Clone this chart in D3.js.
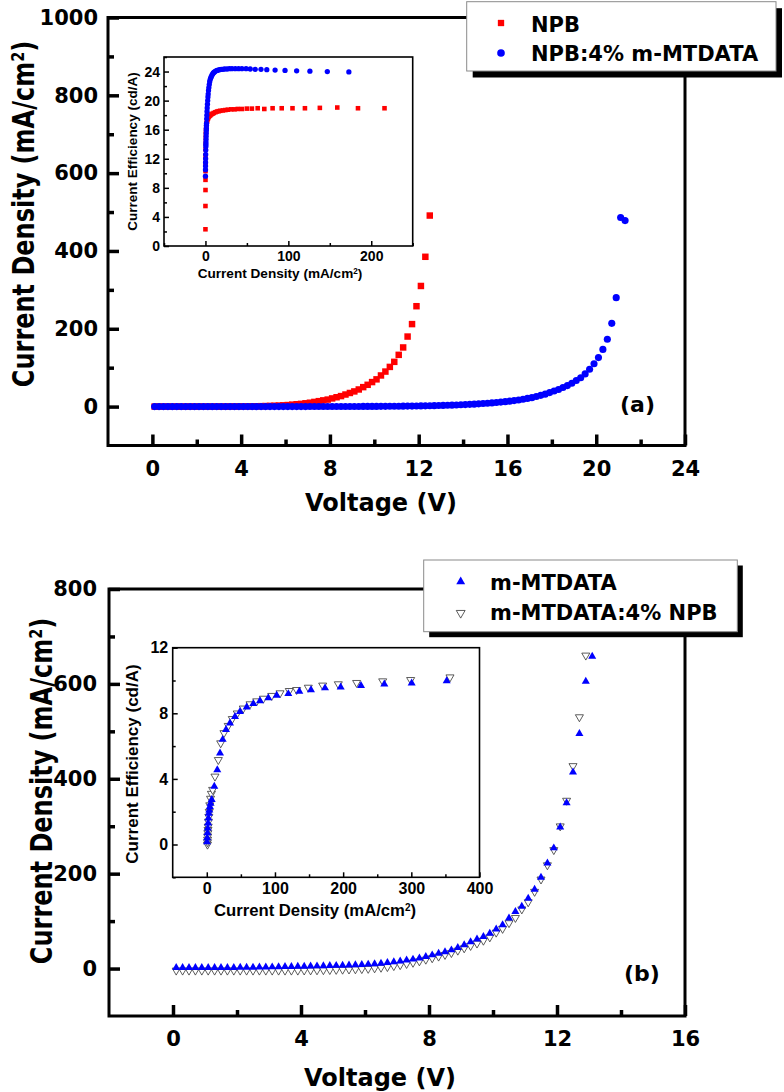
<!DOCTYPE html>
<html><head><meta charset="utf-8">
<script src="https://cdn.jsdelivr.net/npm/d3@7"></script>
<style>body{margin:0;background:#fff}svg{display:block}</style>
</head><body>
<script>
// ---------------- DATA ----------------
// Panel (a) main: current density (mA/cm2) vs voltage (V)
const npbVoltage = [0.1,0.3,0.5,0.7,0.9,1.1,1.3,1.5,1.7,1.9,2.1,2.3,2.5,2.7,2.9,3.1,3.3,3.5,3.7,3.9,4.1,4.3,4.5,4.7,4.9,5.1,5.3,5.5,5.7,5.9,6.1,6.3,6.5,6.7,6.9,7.1,7.3,7.5,7.7,7.9,8.1,8.3,8.5,8.7,8.9,9.1,9.3,9.5,9.7,9.9,10.1,10.3,10.5,10.7,10.9,11.1,11.3,11.5,11.7,11.9,12.1,12.3,12.5];
const npbCurrent = [0,0,0,0,0,0,0,0,0,0, 0,0,0,0.05,0.05,0.1,0.1,0.15,0.2,0.3, 0.4,0.5,0.7,0.9,1.1,1.4,1.8,2.2,2.7,3.3, 4,5,6,7,8.5,10,12,14,16,18, 21,24,27,31,35,39,44,50,56,63, 70,80,90,102,115,133,152,180,212,258, 310,385,491];
const dopedVoltage = [0.1,0.3,0.5,0.7,0.9,1.1,1.3,1.5,1.7,1.9,2.1,2.3,2.5,2.7,2.9,3.1,3.3,3.5,3.7,3.9,4.1,4.3,4.5,4.7,4.9,5.1,5.3,5.5,5.7,5.9,6.1,6.3,6.5,6.7,6.9,7.1,7.3,7.5,7.7,7.9,8.1,8.3,8.5,8.7,8.9,9.1,9.3,9.5,9.7,9.9,10.1,10.3,10.5,10.7,10.9,11.1,11.3,11.5,11.7,11.9,12.1,12.3,12.5,12.7,12.9,13.1,13.3,13.5,13.7,13.9,14.1,14.3,14.5,14.7,14.9,15.1,15.3,15.5,15.7,15.9,16.1,16.3,16.5,16.7,16.9,17.1,17.3,17.5,17.7,17.9,18.1,18.3,18.5,18.7,18.9,19.1,19.3,19.5,19.7,19.9,20.1,20.3,20.5,20.7,20.9,21.1,21.3];
const dopedCurrent = [0,0,0,0,0,0,0,0,0,0, 0,0,0,0,0,0,0,0,0,0, 0,0,0,0,0,0.02,0.02,0.03,0.03,0.04, 0.05,0.05,0.06,0.07,0.08,0.09,0.1,0.11,0.12,0.13, 0.15,0.18,0.21,0.24,0.27,0.3,0.35,0.4,0.45,0.5, 0.55,0.6,0.7,0.8,0.9,1.0,1.1,1.2,1.3,1.5, 1.7,1.9,2.1,2.4,2.7,3.0,3.3,3.7,4.1,4.6, 5.1,5.7,6.3,7.0,7.8,8.6,9.5,10.5,11.5,12.7, 14,15.5,17,19,21,23,26,29,32,36, 40,44,49,54,60,67,74,84,96,110, 126,147,173,214,280,486,478];

// Panel (a) inset: current efficiency (cd/A) vs current density
const npbInsetDensity = [0,0,0.05,0.05,0.1,0.1,0.15,0.2,0.3,0.4,0.5,0.7,0.9,1.1,1.4,1.8,2.2,2.7,3.3,4,5,6,7,8.5,10,12,14,16,18,21,24,27,31,35,39,44,50,56,63,71,81,92,105,120,138,159,184,216];
const npbInsetEff = [2.3,5.5,7.7,9.1,10.3,11.4,12.4,13.3,14.1,14.8,15.4,15.9,16.3,16.6,16.9,17.1,17.3,17.5,17.6,17.8,17.9,18.0,18.1,18.2,18.3,18.4,18.5,18.55,18.6,18.65,18.7,18.75,18.8,18.8,18.85,18.85,18.9,18.9,18.95,18.85,18.95,18.95,18.95,18.95,19.0,19.05,18.95,18.95];
const dopedInsetDensity = [0,0.05,0.1,0.15,0.2,0.3,0.4,0.5,0.55,0.6,0.7,0.8,0.9,1.0,1.1,1.2,1.3,1.5,1.7,1.9,2.1,2.4,2.7,3.0,3.3,3.7,4.1,4.6,5.1,5.7,6.3,7.0,7.8,8.6,9.5,10.5,11.5,12.7,14,15.5,17,19,21,23,26,29,32,36,40,44,49,54,60,67,74,84,96,110,126,147,173];
const dopedInsetEff = [9.6,10.5,11.0,11.5,12.0,12.6,13.2,13.7,14.0,14.3,14.7,15.1,15.5,15.9,16.2,16.6,16.9,17.5,18.0,18.5,19.0,19.5,20.0,20.5,20.9,21.4,21.8,22.2,22.6,22.9,23.1,23.3,23.5,23.65,23.8,23.9,24.0,24.1,24.15,24.2,24.25,24.3,24.3,24.35,24.35,24.4,24.4,24.4,24.4,24.4,24.4,24.35,24.3,24.3,24.25,24.2,24.15,24.1,24.05,24.0,23.95];

// Panel (b) main
const mtVoltage = [0.1,0.3,0.5,0.7,0.9,1.1,1.3,1.5,1.7,1.9,2.1,2.3,2.5,2.7,2.9,3.1,3.3,3.5,3.7,3.9,4.1,4.3,4.5,4.7,4.9,5.1,5.3,5.5,5.7,5.9,6.1,6.3,6.5,6.7,6.9,7.1,7.3,7.5,7.7,7.9,8.1,8.3,8.5,8.7,8.9,9.1,9.3,9.5,9.7,9.9,10.1,10.3,10.5,10.7,10.9,11.1,11.3,11.5,11.7,11.9,12.1,12.3,12.5,12.7,12.9,13.1];
const mtCurrent = [2,2,2,2,2,2,2,2,2,2, 2.2,2.4,2.6,2.8,3,3.2,3.5,3.8,4.1,4.4, 4.7,5,5.3,5.6,6,6.4,6.8,7.3,7.8,8.4, 9,10,11,12.5,14,15.5,17.5,19.5,22,25, 28.5,32,35,39,44,50,56,62,67,74, 83,92,106,120,131,148,167,192,222,254, 298,349,414,495,605,658];
const mtNpbVoltage = [0.1,0.3,0.5,0.7,0.9,1.1,1.3,1.5,1.7,1.9,2.1,2.3,2.5,2.7,2.9,3.1,3.3,3.5,3.7,3.9,4.1,4.3,4.5,4.7,4.9,5.1,5.3,5.5,5.7,5.9,6.1,6.3,6.5,6.7,6.9,7.1,7.3,7.5,7.7,7.9,8.1,8.3,8.5,8.7,8.9,9.1,9.3,9.5,9.7,9.9,10.1,10.3,10.5,10.7,10.9,11.1,11.3,11.5,11.7,11.9,12.1,12.3,12.5,12.7,12.9];
const mtNpbCurrent = [-4,-4,-4,-4,-4,-4,-4,-4,-4,-4, -4,-4,-4,-4,-4,-4,-4,-4,-4,-4, -3.8,-3.6,-3.4,-3.1,-2.8,-2.5,-2.1,-1.7,-1.3,-0.8, -0.3,0.8,2,3.5,5.5,7.5,10,12.5,15.5,19, 22,25.5,29,33,38,43,48,53,59,66, 76,84,96,107,125,140,162,188,218,250, 300,354,427,530,660];

// Panel (b) inset
const mtInsetDensity = [0.3,0.6,1.0,1.4,1.9,2.4,3.0,3.7,4.5,5.5,7.2,11,15.4,19.4,23.3,28.2,34,41.4,48.7,58.5,68.2,78,90.2,102.5,119.6,135.7,152.8,173.4,196.4,226.2,260.4,300.5,351.9];
const mtInsetEff = [0.15,0.4,0.7,1.0,1.3,1.6,1.9,2.1,2.3,2.5,2.73,3.54,4.55,5.57,6.4,7.0,7.4,7.8,8.1,8.38,8.58,8.76,8.93,9.09,9.19,9.33,9.43,9.54,9.6,9.68,9.78,9.84,9.98];
const mtNpbInsetDensity = [1.0,1.1,1.2,1.4,1.6,1.8,2.1,2.5,3.0,3.6,4.4,5.5,6.8,8.6,12,16.9,20.4,25.2,31.5,37.4,44.7,53.5,63.4,73.2,82.9,95.2,107.4,121,131.8,148.9,170,192.9,219.8,258,299,356.7];
const mtNpbInsetEff = [0.0,0.15,0.3,0.5,0.7,0.9,1.1,1.4,1.7,2.0,2.4,2.8,3.1,3.34,4.15,5.16,6.18,6.8,7.24,7.66,8.0,8.3,8.56,8.74,8.9,9.07,9.23,9.37,9.43,9.57,9.7,9.78,9.86,9.96,10.04,10.2];

// Ticks and labels
const aXMajor = [0,4,8,12,16,20,24], aXMinor = [2,6,10,14,18,22];
const aYMajor = [0,200,400,600,800,1000], aYMinor = [100,300,500,700,900];
const bXMajor = [0,4,8,12,16], bXMinor = [2,6,10,14];
const bYMajor = [0,200,400,600,800], bYMinor = [100,300,500,700];
const aInXMajor = [0,100,200], aInXMinor = [-50,50,150,250];
const aInYMajor = [0,4,8,12,16,20,24], aInYMinor = [2,6,10,14,18,22,26];
const bInXMajor = [0,100,200,300,400], bInXMinor = [50,150,250,350];
const bInYMajor = [0,4,8,12], bInYMinor = [-2,2,6,10];
const legendA = ["NPB", "NPB:4% m-MTDATA"];
const legendB = ["m-MTDATA", "m-MTDATA:4% NPB"];
const xTitle = "Voltage (V)";
const yTitle = "Current Density (mA/cm";
const inYTitle = "Current Efficiency (cd/A)";
const inXTitle = "Current Density (mA/cm";

// ---------------- DRAW ----------------
const MF = "'DejaVu Sans', sans-serif";
const IF = "'Liberation Sans', Arial, sans-serif";
const RED = "#ff0000", BLUE = "#0000ff";
const svg = d3.select("body").append("svg").attr("width", 784).attr("height", 1092);
const zip = (a, b) => a.map((v, i) => [v, b[i]]);

function axes(g, x, y, o) {
  const b = y.range()[0], l = x.range()[0];
  g.append("rect").attr("x", l).attr("y", y.range()[1])
    .attr("width", x.range()[1] - l).attr("height", b - y.range()[1])
    .attr("fill", "none").attr("stroke", "#000").attr("stroke-width", o.frame);
  const mk = (axis, tr) => {
    const a = g.append("g").attr("transform", tr).call(axis);
    a.select(".domain").remove();
    a.attr("font-family", o.font).attr("font-size", o.fs).attr("font-weight", "bold");
    a.selectAll(".tick line").attr("stroke", "#000").attr("stroke-width", o.sw);
    a.selectAll(".tick text").attr("fill", "#000");
    return a;
  };
  mk(d3.axisBottom(x).tickValues(o.xMajor).tickSize(-o.maj).tickPadding(o.xPad).tickFormat(d3.format("d")), `translate(0,${b})`);
  mk(d3.axisBottom(x).tickValues(o.xMinor).tickSize(-o.min).tickFormat(""), `translate(0,${b})`);
  mk(d3.axisLeft(y).tickValues(o.yMajor).tickSize(-o.maj).tickPadding(o.yPad).tickFormat(d3.format("d")), `translate(${l},0)`);
  mk(d3.axisLeft(y).tickValues(o.yMinor).tickSize(-o.min).tickFormat(""), `translate(${l},0)`);
}

function supText(g, str, opts) {
  const t = g.append("text").attr("font-family", opts.font).attr("font-weight", "bold")
    .attr("font-size", opts.fs).attr("text-anchor", "middle").attr("transform", opts.transform);
  t.append("tspan").text(str);
  t.append("tspan").attr("baseline-shift", "super").attr("font-size", opts.fs * 0.6).text("2");
  t.append("tspan").text(")");
  return t;
}

function scatter(g, data, x, y, kind, size) {
  const sel = g.append("g").selectAll("path").data(data).join("path")
    .attr("transform", d => `translate(${x(d[0])},${y(d[1])})${kind === "down" ? " rotate(180)" : ""}`);
  if (kind === "square") sel.attr("d", d3.symbol(d3.symbolSquare, size)).attr("fill", RED);
  if (kind === "circle") sel.attr("d", d3.symbol(d3.symbolCircle, size)).attr("fill", BLUE);
  if (kind === "up") sel.attr("d", d3.symbol(d3.symbolTriangle, size)).attr("fill", BLUE);
  if (kind === "down") sel.attr("d", d3.symbol(d3.symbolTriangle, size)).attr("fill", "#fff").attr("stroke", "#333").attr("stroke-width", 0.8);
}

function legend(g, box, shadow, items, symX, textX, rows, baselines) {
  g.append("rect").attr("x", box[0] + shadow[0]).attr("y", box[1] + shadow[1]).attr("width", box[2]).attr("height", box[3]).attr("fill", "#000");
  g.append("rect").attr("x", box[0]).attr("y", box[1]).attr("width", box[2]).attr("height", box[3]).attr("fill", "#fff").attr("stroke", "#8a8a8a").attr("stroke-width", 1);
  items.forEach((it, i) => {
    const p = g.append("path").attr("transform", `translate(${symX},${rows[i]})${it.kind === "down" ? " rotate(180)" : ""}`);
    if (it.kind === "square") p.attr("d", d3.symbol(d3.symbolSquare, 40)).attr("fill", RED);
    if (it.kind === "circle") p.attr("d", d3.symbol(d3.symbolCircle, 46)).attr("fill", BLUE);
    if (it.kind === "up") p.attr("d", d3.symbol(d3.symbolTriangle, 34)).attr("fill", BLUE);
    if (it.kind === "down") p.attr("d", d3.symbol(d3.symbolTriangle, 34)).attr("fill", "#fff").attr("stroke", "#333").attr("stroke-width", 0.8);
    g.append("text").attr("x", textX).attr("y", baselines[i]).attr("font-family", MF).attr("font-weight", "bold")
      .attr("font-size", 21).attr("fill", "#000").text(it.label);
  });
}

// ===== Panel (a) =====
{
  const g = svg.append("g");
  const x = d3.scaleLinear().domain([-2, 24]).range([108, 685]);
  const y = d3.scaleLinear().domain([-100, 1000]).range([445.5, 17.5]);
  scatter(g, zip(npbVoltage, npbCurrent), x, y, "square", 42);
  scatter(g, zip(dopedVoltage, dopedCurrent), x, y, "circle", 40);
  axes(g, x, y, {xMajor: aXMajor, xMinor: aXMinor, yMajor: aYMajor, yMinor: aYMinor, maj: 11, min: 6, sw: 3.5, frame: 3,
    font: MF, fs: 21, xPad: 16, yPad: 10});
  g.append("text").attr("x", 381).attr("y", 511).attr("text-anchor", "middle").attr("font-family", MF)
    .attr("font-weight", "bold").attr("font-size", 24).text(xTitle);
  supText(g, yTitle, {font: MF, fs: 24, transform: "translate(34,214) rotate(-90) scale(1,1.25)"});
  g.append("text").attr("x", 620).attr("y", 412).attr("font-family", MF).attr("font-weight", "bold").attr("font-size", 22).text("(a)");

  const ix = d3.scaleLinear().domain([-50, 250]).range([164, 412.7]);
  const iy = d3.scaleLinear().domain([0, 26]).range([246, 57]);
  g.append("rect").attr("x", 164).attr("y", 57).attr("width", 248.7).attr("height", 189).attr("fill", "#fff");
  scatter(g, zip(npbInsetDensity, npbInsetEff), ix, iy, "square", 21);
  scatter(g, zip(dopedInsetDensity, dopedInsetEff), ix, iy, "circle", 22);
  axes(g, ix, iy, {xMajor: aInXMajor, xMinor: aInXMinor, yMajor: aInYMajor, yMinor: aInYMinor, maj: 5, min: 3, sw: 1.5, frame: 1.6,
    font: IF, fs: 14, xPad: 5, yPad: 4});
  supText(g, inXTitle, {font: IF, fs: 13.6, transform: "translate(280,278)"});
  g.append("text").attr("transform", "translate(137,151.5) rotate(-90)").attr("text-anchor", "middle")
    .attr("font-family", IF).attr("font-weight", "bold").attr("font-size", 13.5).text(inYTitle);

  legend(g, [466.7, 1.7, 309.3, 69.3], [6, 6.5],
    [{kind: "square", label: legendA[0]}, {kind: "circle", label: legendA[1]}], 501, 531, [23, 53], [31.5, 61]);
}

// ===== Panel (b) =====
{
  const g = svg.append("g");
  const x = d3.scaleLinear().domain([-2, 16]).range([109, 685]);
  const y = d3.scaleLinear().domain([-100, 800]).range([1016, 589]);
  scatter(g, zip(mtNpbVoltage, mtNpbCurrent), x, y, "down", 28);
  scatter(g, zip(mtVoltage, mtCurrent), x, y, "up", 28);
  axes(g, x, y, {xMajor: bXMajor, xMinor: bXMinor, yMajor: bYMajor, yMinor: bYMinor, maj: 11, min: 6, sw: 3.5, frame: 3,
    font: MF, fs: 21, xPad: 15.5, yPad: 12});
  g.append("text").attr("x", 380).attr("y", 1086).attr("text-anchor", "middle").attr("font-family", MF)
    .attr("font-weight", "bold").attr("font-size", 24).text(xTitle);
  supText(g, yTitle, {font: MF, fs: 24, transform: "translate(52,791) rotate(-90) scale(1,1.25)"});
  g.append("text").attr("x", 624).attr("y", 981).attr("font-family", MF).attr("font-weight", "bold").attr("font-size", 22).text("(b)");

  const ix = d3.scaleLinear().domain([-50, 400]).range([172.7, 479.5]);
  const iy = d3.scaleLinear().domain([-2, 12]).range([877.3, 647.7]);
  g.append("rect").attr("x", 172.7).attr("y", 647.7).attr("width", 306.8).attr("height", 229.6).attr("fill", "#fff");
  scatter(g, zip(mtNpbInsetDensity, mtNpbInsetEff), ix, iy, "down", 28);
  scatter(g, zip(mtInsetDensity, mtInsetEff), ix, iy, "up", 28);
  axes(g, ix, iy, {xMajor: bInXMajor, xMinor: bInXMinor, yMajor: bInYMajor, yMinor: bInYMinor, maj: 5, min: 3, sw: 1.5, frame: 1.6,
    font: IF, fs: 16, xPad: 5.5, yPad: 4.5});
  supText(g, inXTitle, {font: IF, fs: 16.7, transform: "translate(315,916)"});
  g.append("text").attr("transform", "translate(137.5,764) rotate(-90)").attr("text-anchor", "middle")
    .attr("font-family", IF).attr("font-weight", "bold").attr("font-size", 17).text(inYTitle);

  legend(g, [423.7, 560, 313.6, 71.7], [5.5, 5.5],
    [{kind: "up", label: legendB[0]}, {kind: "down", label: legendB[1]}], 460.7, 490, [581.7, 613], [590, 620]);
}
</script>
</body></html>
